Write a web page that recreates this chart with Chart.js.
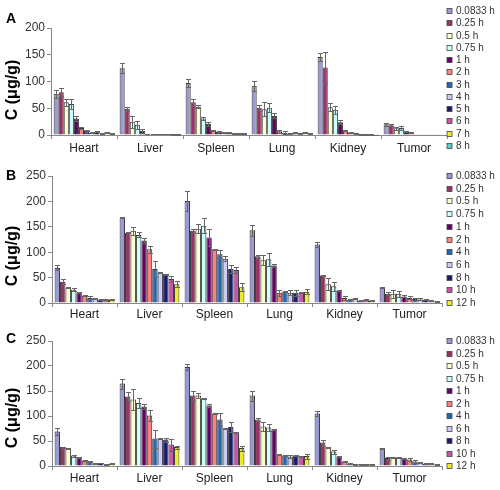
<!DOCTYPE html>
<html>
<head>
<meta charset="utf-8">
<script src="https://cdn.jsdelivr.net/npm/chart.js@4/dist/chart.umd.min.js"></script>
<style>
  body { margin: 0; background: #fff; }
  #wrap { position: relative; width: 500px; height: 490px; }
  canvas { position: absolute; left: 0; }
</style>
</head>
<body>
<div id="wrap">
  <canvas id="chartA" width="500" height="160" style="top:0"></canvas>
  <canvas id="chartB" width="500" height="165" style="top:160px"></canvas>
  <canvas id="chartC" width="500" height="170" style="top:320px"></canvas>
</div>
<script>
// data
const organs = ['Heart', 'Liver', 'Spleen', 'Lung', 'Kidney', 'Tumor'];
const timesA = ['0.0833 h', '0.25 h', '0.5 h', '0.75 h', '1 h', '2 h', '3 h', '4 h', '5 h', '6 h', '7 h', '8 h'];
const timesBC = ['0.0833 h', '0.25 h', '0.5 h', '0.75 h', '1 h', '2 h', '4 h', '6 h', '8 h', '10 h', '12 h'];

// one row per organ, one column per time point (µg/g)
const valuesA = [
  [77, 80, 61, 58, 31, 13, 9, 4, 6, 3, 5, 2],
  [125, 49, 25, 19, 8, 1.5, 1.5, 1.5, 1.5, 1.5, 1, 1],
  [97, 61, 53, 31, 21, 9, 6, 5, 5, 3, 3, 3],
  [92, 51, 48, 51, 36, 7, 4, 3, 4, 3, 5, 3],
  [146, 126, 52, 47, 24, 8, 4, 3, 1, 1, 1, 0.5],
  [20, 18, 12.5, 13, 6, 5, 0.5, 0.5, 0.5, 0.5, 0.5, 0.5]
];
const errorsA = [
  [8, 8, 7, 9, 5, 2, 1, 1, 1, 1, 1, 1],
  [10, 4, 11, 8, 4, 0.3, 0.3, 0.3, 0.3, 0.3, 0.3, 0.3],
  [8, 7, 3, 3, 4, 1, 1, 1, 1, 0.5, 0.5, 0.5],
  [9, 6, 13, 8, 5, 3, 3, 1, 1, 1, 1, 1],
  [8, 29, 7, 7, 4, 1, 1, 1, 0.3, 0.3, 0.3, 0.3],
  [3, 2, 3, 3, 1, 1, 0, 0, 0, 0, 0, 0]
];
const valuesB = [
  [69, 42, 30, 26, 21, 15, 10, 9, 7, 6.5, 6.5],
  [168, 138, 142, 134, 123, 106, 67, 60, 57, 47, 37],
  [201, 142, 146, 152, 129, 106, 96, 87, 67, 65, 31],
  [143, 92, 84, 86, 74, 20, 22, 20, 20, 20, 22],
  [115, 54, 37, 33, 24, 10, 6.5, 8.5, 5, 6.5, 5],
  [31, 18, 18, 18, 13, 10, 8, 7, 7, 5, 3]
];
const errorsB = [
  [5, 5, 1, 3, 1, 1, 3, 1, 1, 0.5, 0.5],
  [0.5, 1, 8, 5, 4, 7, 16, 1, 1, 6, 6],
  [20, 3, 9, 15, 16, 1, 8, 5, 8, 5, 8],
  [11, 3, 10, 13, 3, 6, 1, 5, 6, 1, 5],
  [5, 1, 12, 9, 1, 4, 1, 1, 1, 1, 1],
  [1, 3, 8, 6, 2, 3, 2, 2, 1, 1, 1]
];
const valuesC = [
  [69, 38, 35, 21, 18, 11, 9, 5, 6, 3.5, 5],
  [165, 139, 133, 126, 119, 101, 55, 55, 53, 43, 38],
  [198, 141, 141, 135, 121, 105, 93, 75, 78, 67, 36],
  [141, 93, 79, 77, 73, 23, 21, 19, 21, 20, 20],
  [105, 47, 38, 29, 19, 9, 5, 3.5, 3.5, 3, 3.5],
  [36, 16, 18, 17, 15, 13, 9, 7, 5, 5, 3]
];
const errorsC = [
  [7, 1, 1, 2, 1, 1, 1, 0.5, 0.5, 0.5, 0.5],
  [10, 9, 21, 10, 5, 11, 18, 1, 4, 12, 3],
  [5, 10, 5, 1, 3, 1, 13, 1, 10, 1, 5],
  [10, 3, 9, 6, 1, 1, 1, 3, 1, 1, 5],
  [5, 6, 1, 4, 1, 1, 1, 0.5, 0.5, 0.5, 0.5],
  [1, 3, 1, 1, 1, 3, 3, 1, 1, 1, 1]
];

const palette = ['#9999d6', '#993366', '#ffffcc', '#ccffff', '#660066', '#ff8080',
  '#2166b8', '#ccccf6', '#1a1a70', '#c855aa', '#eeee22', '#55cccc'];
const FONT = '"Liberation Sans", Arial, sans-serif';

// error bars (mean ± err), drawn over the bars
const errorBars = {
  id: 'errorBars',
  afterDatasetsDraw(chart) {
    const {ctx, scales: {y}} = chart;
    ctx.save();
    ctx.strokeStyle = '#666';
    ctx.lineWidth = 1;
    chart.data.datasets.forEach((ds, i) => {
      chart.getDatasetMeta(i).data.forEach((bar, j) => {
        const err = ds.errors[j];
        if (!err) return;
        const v = ds.data[j];
        const x = Math.round(bar.x) + 0.5;
        const top = Math.round(y.getPixelForValue(v + err)) + 0.5;
        const bot = Math.round(y.getPixelForValue(Math.max(v - err, 0))) + 0.5;
        const half = 2.5;
        ctx.beginPath();
        ctx.moveTo(x, top); ctx.lineTo(x, bot);
        ctx.moveTo(x - half, top); ctx.lineTo(x + half, top);
        ctx.moveTo(x - half, bot); ctx.lineTo(x + half, bot);
        ctx.stroke();
      });
    });
    ctx.restore();
  }
};

// panel letter, axis title and the side legend
const panelText = {
  id: 'panelText',
  afterDraw(chart, args, opts) {
    const ctx = chart.ctx;
    ctx.save();
    ctx.fillStyle = '#000';
    ctx.textBaseline = 'middle';
    ctx.font = 'bold 14px ' + FONT;
    ctx.fillText(opts.letter, 6, opts.letterY);

    ctx.save();
    ctx.translate(13, opts.titleY);
    ctx.rotate(-Math.PI / 2);
    ctx.textAlign = 'center';
    ctx.font = 'bold 16px ' + FONT;
    ctx.fillText('C (μg/g)', 0, 0);
    ctx.restore();

    ctx.font = '10px ' + FONT;
    chart.data.datasets.forEach((ds, i) => {
      const yy = Math.round(opts.legendY + i * opts.legendStep);
      ctx.fillStyle = ds.backgroundColor;
      ctx.fillRect(447, yy - 2.5, 5, 5);
      ctx.strokeStyle = '#444';
      ctx.lineWidth = 0.8;
      ctx.strokeRect(447, yy - 2.5, 5, 5);
      ctx.fillStyle = '#333';
      ctx.fillText(ds.label, 456, yy);
    });
    ctx.restore();
  }
};

function makePanel(id, times, values, errors, cfg) {
  const datasets = times.map((t, k) => ({
    label: t,
    data: organs.map((o, r) => values[r][k]),
    errors: organs.map((o, r) => errors[r][k]),
    backgroundColor: palette[k],
    borderColor: '#333',
    borderWidth: 1,
    categoryPercentage: 0.92,
    barPercentage: 1.0
  }));
  return new Chart(document.getElementById(id), {
    type: 'bar',
    data: {labels: organs, datasets},
    options: {
      responsive: false,
      animation: false,
      layout: {padding: {top: cfg.top, right: cfg.right, bottom: 0, left: 0}},
      plugins: {
        legend: {display: false},
        tooltip: {enabled: false},
        panelText: cfg.text
      },
      scales: {
        x: {
          grid: {drawOnChartArea: false, color: '#888', tickLength: 4, offset: true},
          border: {color: '#888'},
          ticks: {color: '#222', font: {size: 12, family: FONT}, padding: cfg.labelPad, maxRotation: 0},
          afterFit: s => { s.height = cfg.xHeight; }
        },
        y: {
          min: 0,
          max: cfg.yMax,
          ticks: {stepSize: 50, color: '#333', font: {size: 12, family: FONT}, padding: 2},
          grid: {drawOnChartArea: false, color: '#888', tickLength: 4},
          border: {color: '#888'},
          afterFit: s => { s.width = cfg.yWidth; }
        }
      }
    },
    plugins: [errorBars, panelText]
  });
}

makePanel('chartA', timesA, valuesA, errorsA, {
  top: 28, right: 53, xHeight: 25, yWidth: 51, yMax: 200, labelPad: 2,
  text: {letter: 'A', letterY: 19, titleY: 90, legendY: 11, legendStep: 12.25}
});
makePanel('chartB', timesBC, valuesB, errorsB, {
  top: 16, right: 58, xHeight: 22, yWidth: 52, yMax: 250, labelPad: 0,
  text: {letter: 'B', letterY: 16, titleY: 96, legendY: 16, legendStep: 12.7}
});
makePanel('chartC', timesBC, valuesC, errorsC, {
  top: 21, right: 58, xHeight: 24, yWidth: 52, yMax: 250, labelPad: 1,
  text: {letter: 'C', letterY: 19, titleY: 98, legendY: 21, legendStep: 12.5}
});
</script>
</body>
</html>
